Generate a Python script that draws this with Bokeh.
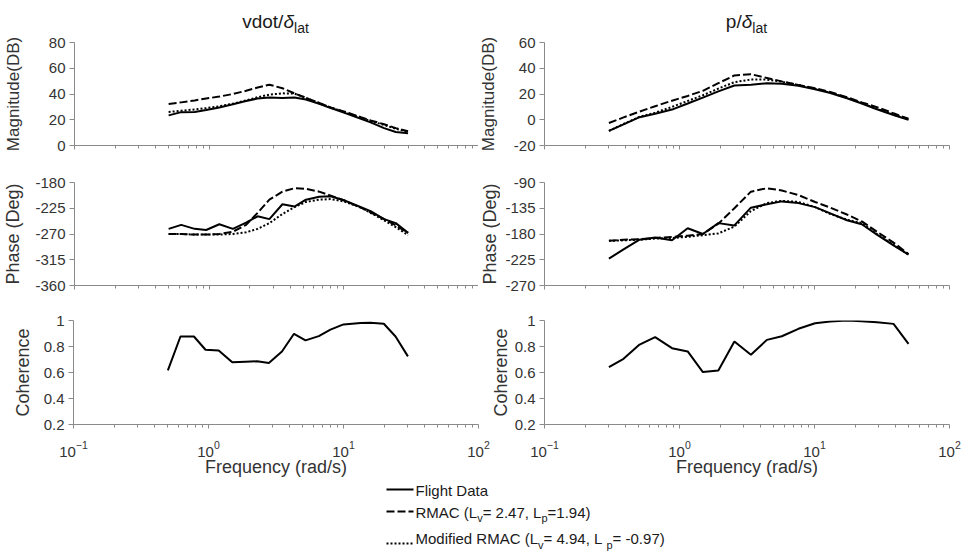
import math
from bokeh.plotting import figure
from bokeh.models import Range1d, FixedTicker, Label, CustomJSTickFormatter, LogTickFormatter
from bokeh.layouts import column, row
from bokeh.embed import file_html
from bokeh.resources import INLINE

# ---------------- data ----------------
left_freq = [0.5, 0.62, 0.78, 0.95, 1.19, 1.5, 1.88, 2.29, 2.8, 3.5,
             4.3, 5.23, 6.56, 8.0, 10.0, 13.4, 15.8, 19.9, 24.3, 30.0]
left_mag_flight = [23.4, 25.9, 26.0, 27.5, 29.5, 32.0, 34.5, 36.5, 37.3, 36.8,
                   37.3, 35.7, 32.4, 29.0, 25.5, 20.8, 18.0, 13.5, 10.5, 9.5]
left_mag_rmac = [32.3, 33.5, 35.0, 36.5, 38.0, 40.0, 42.5, 45.0, 47.2, 44.5,
                 40.5, 37.0, 33.0, 29.5, 26.5, 22.0, 19.5, 16.5, 13.5, 11.0]
left_mag_mod = [26.0, 27.0, 28.0, 29.0, 30.5, 32.5, 35.0, 37.5, 39.5, 40.5,
                40.3, 37.0, 33.0, 29.5, 26.0, 21.5, 19.0, 16.0, 13.0, 10.5]
left_ph_flight = [-261, -254, -261, -263, -253, -261, -250, -239, -244, -218,
                  -222, -210, -205, -204, -211, -223, -230, -244, -251, -268]
left_ph_rmac = [-270, -270, -271, -271, -270, -266, -254, -233, -210, -196,
                -190, -191, -196, -203, -211, -224, -232, -244, -255, -268]
left_ph_mod = [-270, -270, -271, -271, -271, -270, -267, -261, -251, -235,
               -223, -214, -210, -209, -213, -224, -233, -246, -258, -272]
left_coh = [0.617, 0.877, 0.877, 0.775, 0.77, 0.678, 0.683, 0.686, 0.673, 0.762,
            0.898, 0.847, 0.88, 0.93, 0.97, 0.98, 0.982, 0.975, 0.877, 0.724]

right_freq = [0.3, 0.385, 0.506, 0.66, 0.88, 1.15, 1.49, 1.94, 2.55, 3.38,
              4.44, 5.73, 7.6, 10.1, 13.1, 17.4, 22.4, 29.0, 38.5, 49.7]
right_mag_flight = [-8.7, -3.6, 2.0, 4.7, 7.9, 12.6, 17.2, 22.0, 26.6, 27.2,
                    28.4, 28.0, 26.4, 23.7, 20.8, 16.7, 12.6, 8.2, 3.7, 0.0]
right_mag_rmac = [-2.5, 1.8, 6.3, 10.5, 14.8, 18.5, 22.5, 28.4, 34.4, 35.4,
                  32.5, 29.8, 27.0, 24.5, 21.5, 17.5, 13.5, 9.8, 5.0, 0.8]
right_mag_mod = [-8.7, -3.3, 2.3, 5.5, 10.0, 14.6, 19.0, 24.2, 29.2, 31.2,
                 31.2, 29.5, 27.0, 24.0, 21.0, 17.0, 13.0, 8.5, 4.0, 0.3]
right_ph_flight = [-223, -207, -190, -186, -191, -170, -180, -161, -165, -134,
                   -128, -123, -126, -133, -144, -156, -163, -181, -200, -216]
right_ph_rmac = [-192, -190, -189, -187, -185, -183, -180, -162, -135, -106,
                 -100, -104, -112, -124, -134, -146, -158, -176, -195, -215]
right_ph_mod = [-192, -191, -190, -188, -187, -185, -182, -179, -167, -140,
                -126, -122, -124, -133, -145, -155, -161, -180, -199, -216]
right_coh = [0.641, 0.705, 0.815, 0.872, 0.787, 0.762, 0.603, 0.615, 0.838, 0.736,
             0.851, 0.879, 0.936, 0.979, 0.992, 1.0, 0.995, 0.987, 0.974, 0.82]

mag_ticks_left = [0, 20, 40, 60, 80]
mag_ticks_right = [-20, 0, 20, 40, 60]
ph_ticks_left = [-360, -315, -270, -225, -180]
ph_ticks_right = [-270, -225, -180, -135, -90]
coh_ticks = [0.2, 0.4, 0.6, 0.8, 1]
x_major = [0.1, 1, 10, 100]

# ---------------- style ----------------
FONT = "Liberation Sans"
AXIS_COLOR = "#8a8a8a"
TEXT_COLOR = "#333333"
INK = "#1a1a1a"
STYLES = [dict(line_dash="solid"), dict(line_dash="8 3"), dict(line_dash="2 2")]
x_minor = [m * 10.0 ** e for e in (-1, 0, 1) for m in range(2, 10)]

PAGE_W, PAGE_H = 962, 552
FRAME_W = 405

W = {'R': 722, 'M': 833, 'A': 667, 'C': 722, ' ': 278, '(': 333, 'L': 556, '=': 584,
     '2': 556, '.': 278, '4': 556, '7': 556, ',': 278, '1': 556, '9': 556, ')': 333,
     'o': 556, 'd': 556, 'i': 222, 'f': 278, 'e': 556, '-': 333, '0': 556, '/': 278,
     'v': 500, 'p': 556, 'F': 611, 'l': 222, 'g': 556, 'h': 556, 't': 278, 'D': 722,
     'a': 556, 'δ': 560}


def tw(s, size):
    return sum(W[c] for c in s) * size / 1000


def panel(freq, ys, yticks, ylabel, fh, bl, br, bt, bb, xlabels, lab_standoff,
          ylabel_size="18px"):
    p = figure(width=bl + FRAME_W + br, height=bt + fh + bb, x_axis_type="log",
               x_range=Range1d(0.1, 100), y_range=Range1d(yticks[0], yticks[-1]),
               toolbar_location=None, output_backend="svg",
               min_border_left=bl, min_border_right=br,
               min_border_top=bt, min_border_bottom=bb)
    p.outline_line_color = None
    p.grid.visible = False
    p.background_fill_color = "white"
    p.border_fill_color = "white"
    for vals, st in zip(ys, STYLES):
        p.line(freq, vals, line_color="black", line_width=2, **st)
    for ax in (p.xaxis[0], p.yaxis[0]):
        ax.axis_line_color = AXIS_COLOR
        ax.major_tick_line_color = AXIS_COLOR
        ax.minor_tick_line_color = AXIS_COLOR
        ax.major_label_text_font = FONT
        ax.major_label_text_color = TEXT_COLOR
        ax.major_label_text_font_size = "15px"
        ax.axis_label_text_font = FONT
        ax.axis_label_text_color = TEXT_COLOR
        ax.axis_label_text_font_size = "18px"
        ax.axis_label_text_font_style = "normal"
    xa = p.xaxis[0]
    xa.ticker = FixedTicker(ticks=x_major, minor_ticks=x_minor)
    xa.major_tick_in = 0
    xa.major_tick_out = 4
    xa.minor_tick_in = 0
    xa.minor_tick_out = 3
    if xlabels:
        xa.formatter = LogTickFormatter()
        xa.major_label_standoff = 12
        xa.axis_label = "Frequency (rad/s)"
        xa.axis_label_standoff = -3
    else:
        xa.formatter = CustomJSTickFormatter(code="return ''")
    ya = p.yaxis[0]
    ya.ticker = FixedTicker(ticks=yticks, minor_ticks=[])
    ya.formatter = CustomJSTickFormatter(code="return String(tick)")
    ya.major_tick_in = 0
    ya.major_tick_out = 5
    ya.minor_tick_out = 0
    ya.major_label_standoff = 4
    if ylabel:
        ya.axis_label = ylabel
        ya.axis_label_standoff = lab_standoff
        ya.axis_label_text_font_size = ylabel_size
    return p


def strip(x0, x1, y0, y1):
    """Blank canvas whose data coordinates are the page pixels it covers."""
    s = figure(width=x1 - x0, height=y1 - y0, x_range=Range1d(x0, x1), y_range=Range1d(y1, y0),
               x_axis_type=None, y_axis_type=None, toolbar_location=None,
               output_backend="svg", min_border=0, title=None)
    s.frame_align = False
    s.outline_line_color = None
    s.grid.visible = False
    s.border_fill_color = "white"
    s.background_fill_color = "white"
    return s


def vlabel(s, x, y, text, size):
    s.add_layout(Label(x=x, y=y, text=text, angle=math.pi / 2, text_font=FONT,
                       text_font_size=size, text_color=TEXT_COLOR,
                       text_align="center", text_baseline="middle"))


# header with the two titles (coordinates are page pixels)
head = strip(0, PAGE_W, 0, 35)
titles = [(275, "vdot/", "lat"), (746, "p/", "lat")]
for cx, main, sub in titles:
    total = tw(main, 19) + tw("δ", 19) + tw(sub, 14)
    x = cx - total / 2
    common = dict(text_font=FONT, text_color=INK, text_baseline="middle", text_align="left")
    head.add_layout(Label(x=x, y=21.2, text=main, text_font_size="19px", **common))
    x += tw(main, 19)
    head.add_layout(Label(x=x, y=21.2, text="δ", text_font_size="19px",
                          text_font_style="italic", **common))
    x += tw("δ", 19)
    head.add_layout(Label(x=x, y=27.2, text=sub, text_font_size="14px", **common))

# row 1: magnitude (page y 35..163, frame 42..145)
m_l = panel(left_freq, [left_mag_flight, left_mag_rmac, left_mag_mod], mag_ticks_left,
            "Magnitude(DB)", 103, 73, 0, 7, 18, False, 23, "17px")
m_s = strip(478, 500, 35, 163)
vlabel(m_s, 487.5, 93.5, "Magnitude(DB)", "17px")
m_r = panel(right_freq, [right_mag_flight, right_mag_rmac, right_mag_mod], mag_ticks_right,
            None, 103, 44, 13, 7, 18, False, 0)

# row 2: phase (page y 163..302, frame 182..285)
p_l = panel(left_freq, [left_ph_flight, left_ph_rmac, left_ph_mod], ph_ticks_left,
            "Phase (Deg)", 103, 73, 0, 19, 17, False, 9)
p_s = strip(478, 500, 163, 302)
vlabel(p_s, 489.2, 233.5, "Phase (Deg)", "18px")
p_r = panel(right_freq, [right_ph_flight, right_ph_rmac, right_ph_mod], ph_ticks_right,
            None, 103, 44, 13, 19, 17, False, 0)

# row 3: coherence (page y 302..482, frame 320..424)
c_l = panel(left_freq, [left_coh], coh_ticks, "Coherence", 104, 73, 12, 18, 58, True, 8)
c_s = strip(490, 511, 302, 482)
vlabel(c_s, 500, 372, "Coherence", "18px")
c_r = panel(right_freq, [right_coh], coh_ticks, None, 104, 33, 13, 18, 58, True, 0)

# legend strip (coordinates are page pixels)
leg = strip(0, PAGE_W, 482, 552)
leg_rows = [
    (489, 489.8, [("Flight Data", False)]),
    (511, 511.5, [("RMAC (L", False), ("v", True), ("= 2.47, L", False), ("p", True), ("=1.94)", False)]),
    (543, 538.3, [("Modified RMAC (L", False), ("v", True), (" = 4.94, L", False), ("p", True), ("= -0.97)", False)]),
]
for (ly, mid, pieces), st in zip(leg_rows, STYLES):
    leg.line([386, 413], [ly, ly], line_color="black", line_width=2, **st)
    x = 415
    for txt, sub in pieces:
        size = 11 if sub else 15
        leg.add_layout(Label(x=x, y=mid + (6 if sub else 0), text=txt, text_font=FONT,
                             text_font_size=f"{size}px", text_color=INK,
                             text_baseline="middle", text_align="left"))
        x += tw(txt, size)

layout = column(head, row(m_l, m_s, m_r), row(p_l, p_s, p_r), row(c_l, c_s, c_r), leg)

open("out.html", "w").write(file_html(layout, INLINE))
